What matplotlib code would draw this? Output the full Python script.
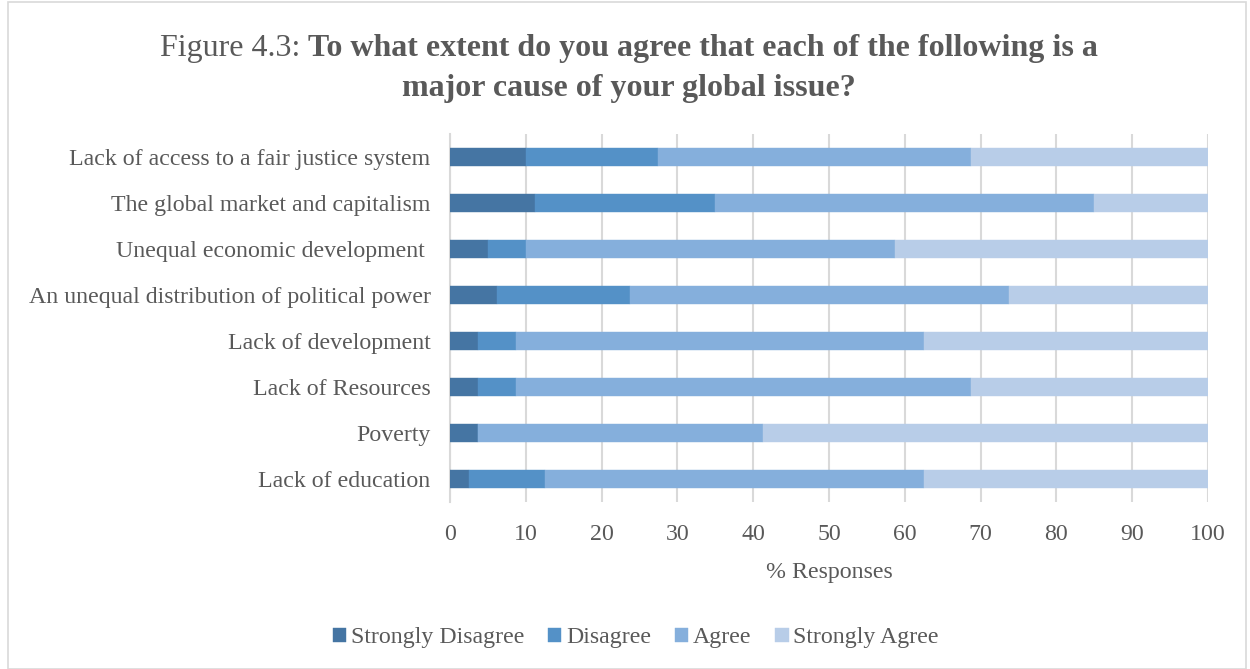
import matplotlib
matplotlib.use("Agg")
import matplotlib.pyplot as plt
import numpy as np
from matplotlib.patches import Rectangle

categories = [
    "Lack of access to a fair justice system",
    "The global market and capitalism",
    "Unequal economic development ",
    "An unequal distribution of political power",
    "Lack of development",
    "Lack of Resources",
    "Poverty",
    "Lack of education",
]
strongly_disagree = [10.0, 11.25, 5.0, 6.25, 3.75, 3.75, 3.75, 2.5]
disagree = [17.5, 23.75, 5.0, 17.5, 5.0, 5.0, 0.0, 10.0]
agree = [41.25, 50.0, 48.75, 50.0, 53.75, 60.0, 37.5, 50.0]
strongly_agree = [31.25, 15.0, 41.25, 26.25, 37.5, 31.25, 58.75, 37.5]

series_names = ["Strongly Disagree", "Disagree", "Agree", "Strongly Agree"]
colors = ["#4575A3", "#5491C7", "#85AFDC", "#B8CDE8"]
xticks = [0, 10, 20, 30, 40, 50, 60, 70, 80, 90, 100]

plt.rcParams['font.family'] = ['Liberation Serif', 'DejaVu Serif']
text_color = "#595959"
fs = 17.2

fig = plt.figure(figsize=(12.5, 6.69), dpi=100)
ax = fig.add_axes([450/1250, 1 - 502/669, (1208-450)/1250, (502-134)/669])

y = np.arange(len(categories))
left = np.zeros(len(categories))
for name, vals, c in zip(series_names, [strongly_disagree, disagree, agree, strongly_agree], colors):
    vals = np.array(vals)
    ax.barh(y, vals, left=left, height=0.4, color=c, label=name, edgecolor=c, linewidth=0.3, zorder=3)
    left += vals

ax.set_ylim(len(categories) - 0.5, -0.5)
ax.set_xlim(0, 100)
ax.set_yticks(y)
ax.set_yticklabels(categories, fontsize=fs, color=text_color)
ax.set_xticks(xticks)
ax.set_xticklabels([str(t) for t in xticks], fontsize=fs, color=text_color)
ax.tick_params(axis='x', length=0, pad=16)
ax.tick_params(axis='y', length=0, pad=14)
ax.xaxis.grid(True, color="#D9D9D9", linewidth=1.5, zorder=0)
for s in ["top", "right", "bottom"]:
    ax.spines[s].set_visible(False)
ax.spines["left"].set_color("#D9D9D9")
ax.spines["left"].set_linewidth(1.5)
ax.set_xlabel("% Responses", fontsize=fs, color=text_color, labelpad=12)

# Title
tfs = 23
t1 = fig.text(0, 0, "Figure 4.3: ", fontsize=tfs, color=text_color, va='baseline')
t2 = fig.text(0, 0, "To what extent do you agree that each of the following is a",
              fontsize=tfs, color=text_color, fontweight='bold', va='baseline')
fig.canvas.draw()
r = fig.canvas.get_renderer()
w1 = t1.get_window_extent(r).width
w2 = t2.get_window_extent(r).width
total = w1 + w2
x0 = 160
t1.set_position((x0 / 1250, 1 - 56/669))
t2.set_position(((x0 + w1) / 1250, 1 - 56/669))
fig.text((160 + total / 2) / 1250, 1 - 96/669, "major cause of your global issue?", fontsize=tfs,
         color=text_color, fontweight='bold', ha='center', va='baseline')

leg = fig.legend(loc='center', bbox_to_anchor=(636/1250, 1 - 638/669), ncol=4, frameon=False,
                 fontsize=fs, handlelength=0.55, handleheight=0.55, handletextpad=0.2,
                 columnspacing=1.0)
for txt in leg.get_texts():
    txt.set_color(text_color)

fig.patches.append(Rectangle((8/1250, 0), (1246-8)/1250, 1 - 2/669, transform=fig.transFigure,
                             fill=False, edgecolor="#D9D9D9", linewidth=1.2))

fig.savefig("out.png", dpi=100)
